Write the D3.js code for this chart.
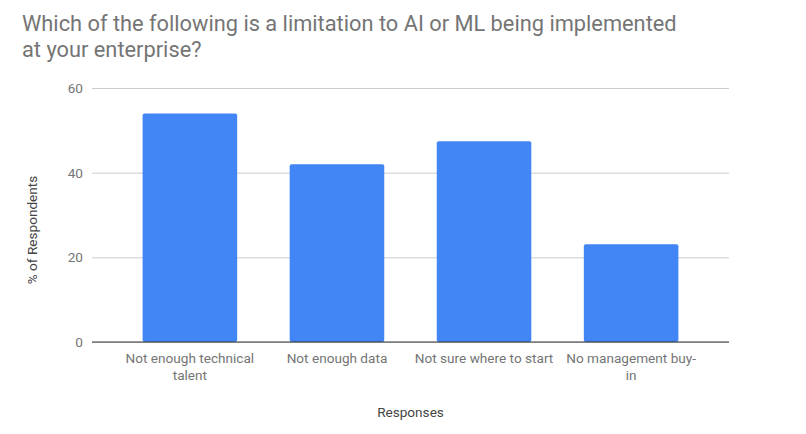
<!DOCTYPE html>
<html>
<head>
<meta charset="utf-8">
<script src="https://cdn.jsdelivr.net/npm/d3@7"></script>
<style>
  body { margin: 0; background: #fff; }
  svg { font-family: Roboto, "Noto Sans", sans-serif; }
</style>
</head>
<body>
<svg id="chart"></svg>
<script>
// data
const categories = ["Not enough technical talent", "Not enough data", "Not sure where to start", "No management buy-in"];
const labelLines = [["Not enough technical", "talent"], ["Not enough data"], ["Not sure where to start"], ["No management buy-", "in"]];
const values = [54.0, 42.0, 47.4, 23.1];
const yTicks = [0, 20, 40, 60];
const titleLines = ["Which of the following is a limitation to AI or ML being implemented", "at your enterprise?"];

const W = 806, H = 434;
const margin = { top: 88, right: 77, bottom: 92, left: 92 };
const width = W - margin.left - margin.right;
const height = H - margin.top - margin.bottom;
const labelSize = "13.6px";

const svg = d3.select("#chart").attr("width", W).attr("height", H);

// title
svg.append("text")
  .attr("x", 22).attr("y", 31)
  .attr("fill", "#757575")
  .style("font-size", "21.8px")
  .selectAll("tspan")
  .data(titleLines)
  .enter()
  .append("tspan")
  .attr("x", 22)
  .attr("dy", (d, i) => i ? 26 : 0)
  .text(d => d);

const g = svg.append("g")
  .attr("transform", "translate(" + margin.left + "," + margin.top + ")");

const x = d3.scaleBand()
  .domain(categories)
  .range([0, width])
  .paddingInner(0.357)
  .paddingOuter(0.344);
const y = d3.scaleLinear().domain([0, 60]).range([height, 0]);

// gridlines + y labels
const yAxis = g.append("g")
  .call(d3.axisLeft(y).tickValues(yTicks).tickSize(-width).tickPadding(9));
yAxis.select(".domain").remove();
yAxis.selectAll(".tick line").attr("stroke", "#cccccc");
yAxis.selectAll(".tick text")
  .attr("fill", "#757575")
  .style("font-size", labelSize)
  .style("font-family", "Roboto, sans-serif");

// bars
g.selectAll(".bar")
  .data(values)
  .enter()
  .append("rect")
  .attr("class", "bar")
  .attr("x", (d, i) => x(categories[i]))
  .attr("width", x.bandwidth())
  .attr("y", d => y(d))
  .attr("height", d => height - y(d))
  .attr("rx", 2)
  .attr("fill", "#4285f4");

// baseline
g.append("line")
  .attr("x1", 0).attr("x2", width)
  .attr("y1", y(0)).attr("y2", y(0))
  .attr("stroke", "#333333");

// x labels
const xl = g.selectAll(".xlabel")
  .data(categories)
  .enter()
  .append("text")
  .attr("class", "xlabel")
  .attr("text-anchor", "middle")
  .attr("fill", "#757575")
  .style("font-size", labelSize)
  .attr("transform", d => "translate(" + (x(d) + x.bandwidth() / 2) + "," + (height + 21) + ")");
xl.selectAll("tspan")
  .data((d, i) => labelLines[i])
  .enter()
  .append("tspan")
  .attr("x", 0)
  .attr("dy", (d, i) => i ? 17 : 0)
  .text(d => d);

// axis titles
g.append("text")
  .attr("x", width / 2).attr("y", height + 75)
  .attr("text-anchor", "middle")
  .attr("fill", "#444444")
  .style("font-size", labelSize)
  .text("Responses");

svg.append("text")
  .attr("transform", "translate(37,230) rotate(-90)")
  .attr("text-anchor", "middle")
  .attr("fill", "#444444")
  .style("font-size", labelSize)
  .text("% of Respondents");
</script>
</body>
</html>
